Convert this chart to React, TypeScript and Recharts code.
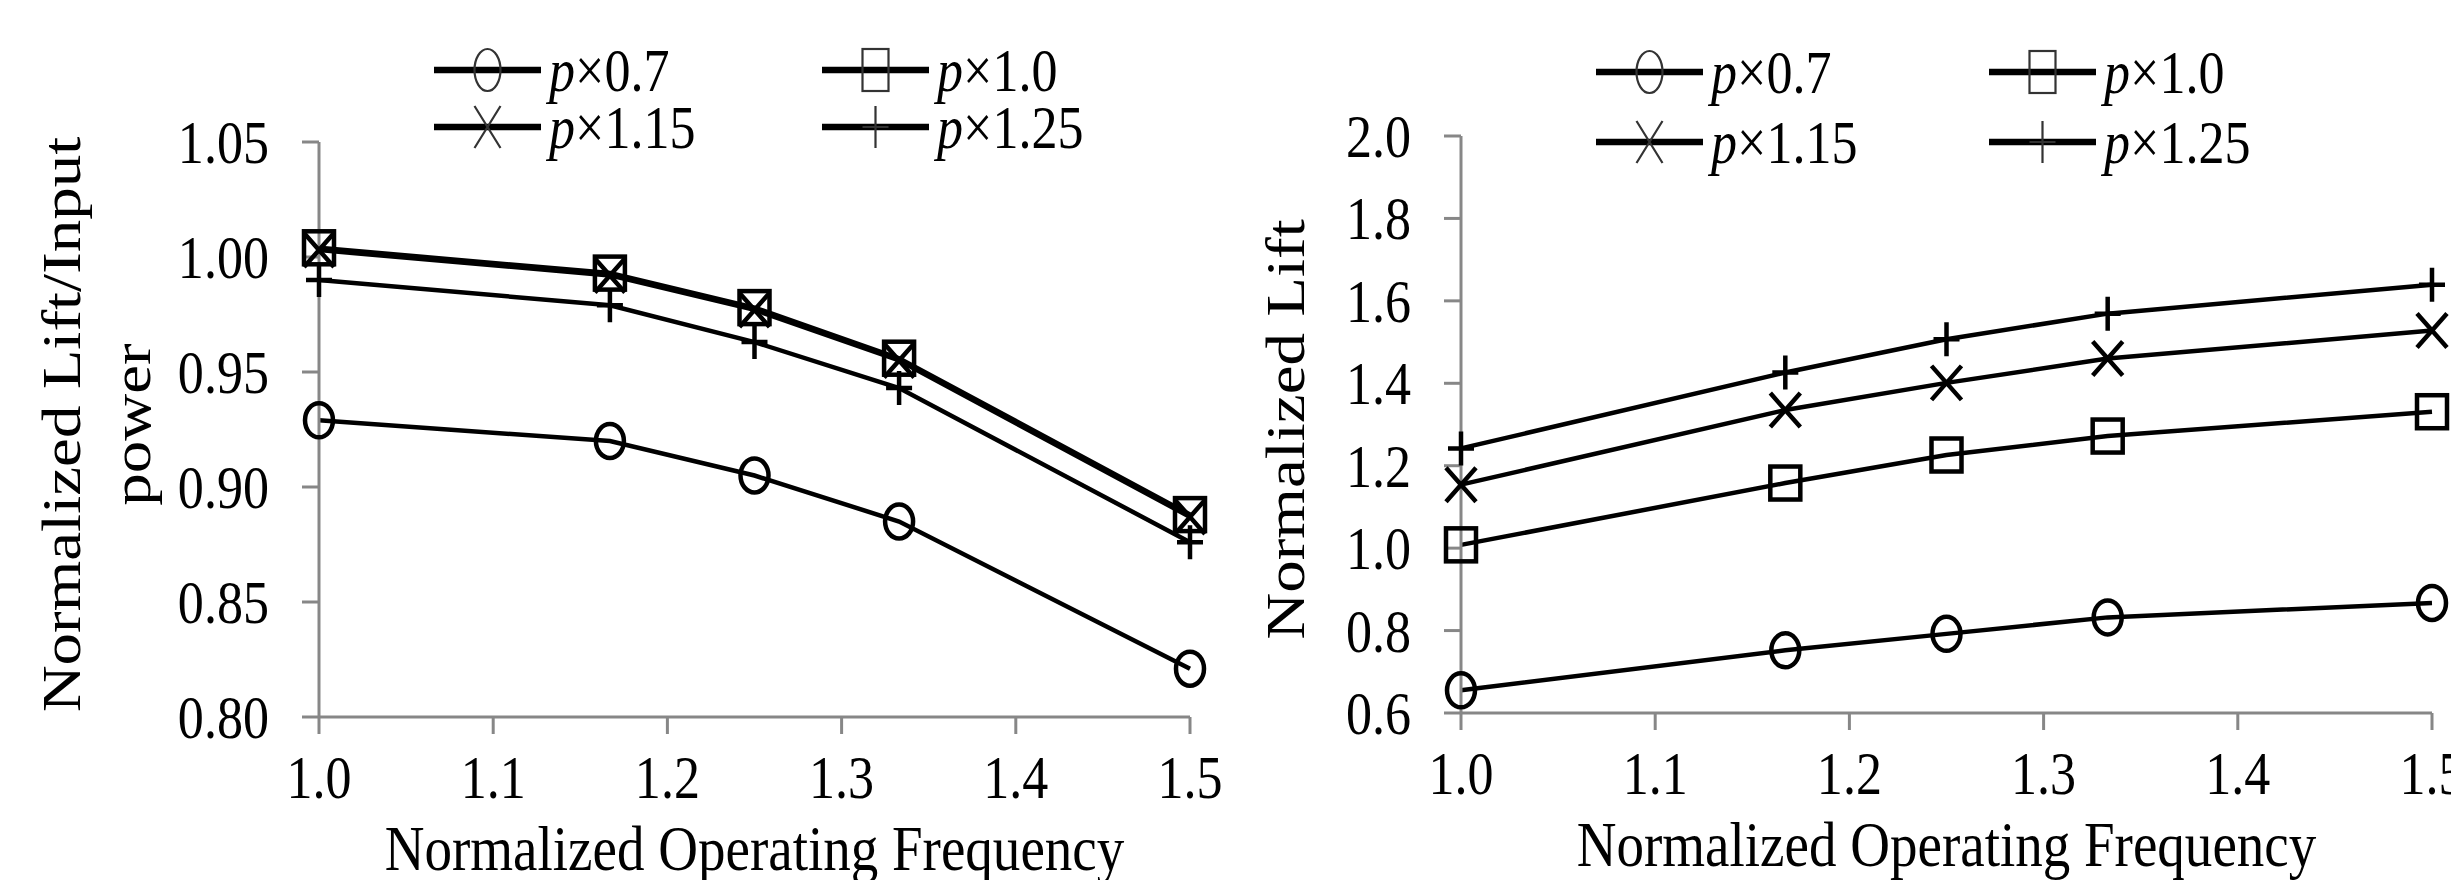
import React from "react";
import { LineChart, Line, XAxis, YAxis, Legend, Label } from "recharts";

const FONT = '"Liberation Serif", "Times New Roman", serif';
const AXIS_GREY = "#878787";
const SQUEEZE = 0.84; // the source figure is stretched vertically

// normalized operating frequency
const freq = [1.0, 1.167, 1.25, 1.333, 1.5];
const freqTicks = [1.0, 1.1, 1.2, 1.3, 1.4, 1.5];

// left panel: normalized lift / input power
const effP07 = [0.929, 0.92, 0.905, 0.885, 0.821];
const effP10 = [1.004, 0.993, 0.978, 0.956, 0.888];
const effP115 = [1.003, 0.992, 0.977, 0.955, 0.887];
const effP125 = [0.99, 0.979, 0.963, 0.943, 0.876];
const effTicks = [0.8, 0.85, 0.9, 0.95, 1.0, 1.05];

// right panel: normalized lift
const liftP07 = [0.655, 0.752, 0.792, 0.832, 0.867];
const liftP10 = [1.008, 1.158, 1.226, 1.272, 1.331];
const liftP115 = [1.154, 1.335, 1.401, 1.46, 1.528];
const liftP125 = [1.242, 1.426, 1.507, 1.569, 1.639];
const liftTicks = [0.6, 0.8, 1.0, 1.2, 1.4, 1.6, 1.8, 2.0];

const seriesKeys = ["p07", "p10", "p115", "p125"];
const seriesLabels = ["0.7", "1.0", "1.15", "1.25"];
const seriesMarks = ["circle", "square", "cross", "plus"];

const toRows = (cols: number[][]) =>
  freq.map((f, i) => {
    const row: any = { f };
    seriesKeys.forEach((k, j) => {
      row[k] = cols[j][i];
    });
    return row;
  });

const effData = toRows([effP07, effP10, effP115, effP125]);
const liftData = toRows([liftP07, liftP10, liftP115, liftP125]);

const dotSize: Record<string, number[]> = {
  circle: [28, 34],
  square: [30, 33],
  cross: [30, 34],
  plus: [26, 34],
};

function Mark({ kind, cx, cy, w, h, sw, color }: any) {
  if (kind === "circle")
    return <ellipse cx={cx} cy={cy} rx={w / 2} ry={h / 2} fill="none" stroke={color} strokeWidth={sw} />;
  if (kind === "square")
    return <rect x={cx - w / 2} y={cy - h / 2} width={w} height={h} fill="none" stroke={color} strokeWidth={sw} />;
  if (kind === "cross")
    return (
      <path
        d={`M${cx - w / 2},${cy - h / 2}L${cx + w / 2},${cy + h / 2}M${cx + w / 2},${cy - h / 2}L${cx - w / 2},${cy + h / 2}`}
        fill="none"
        stroke={color}
        strokeWidth={sw}
      />
    );
  return (
    <path
      d={`M${cx - w / 2},${cy}L${cx + w / 2},${cy}M${cx},${cy - h / 2}L${cx},${cy + h / 2}`}
      fill="none"
      stroke={color}
      strokeWidth={sw}
    />
  );
}

const renderDot = (kind: string) => (props: any) => {
  const [w, h] = dotSize[kind];
  return (
    <g key={`${kind}-${props.index}`}>
      <Mark kind={kind} cx={props.cx} cy={props.cy} w={w} h={h} sw={4.5} color="#000" />
    </g>
  );
};

const XTick = ({ x, y, payload }: any) => (
  <text
    transform={`translate(${x},${y + 64}) scale(${SQUEEZE},1)`}
    textAnchor="middle"
    fontFamily={FONT}
    fontSize={62}
    fill="#000"
  >
    {Number(payload.value).toFixed(1)}
  </text>
);

const yTick = (digits: number) => ({ x, y, payload }: any) => (
  <text
    transform={`translate(${x - 33},${y + 21}) scale(${SQUEEZE},1)`}
    textAnchor="end"
    fontFamily={FONT}
    fontSize={62}
    fill="#000"
  >
    {Number(payload.value).toFixed(digits)}
  </text>
);

const xTitle = ({ viewBox }: any) => (
  <text
    transform={`translate(${viewBox.x + viewBox.width / 2},${viewBox.y + 153}) scale(0.86,1)`}
    textAnchor="middle"
    fontFamily={FONT}
    fontSize={64}
    fill="#000"
  >
    Normalized Operating Frequency
  </text>
);

const yTitle = (lines: string[], baselines: number[], shift: number) => ({ viewBox }: any) => {
  const cy = viewBox.y + viewBox.height / 2 + shift;
  return (
    <g>
      {lines.map((t, i) => (
        <text
          key={t}
          transform={`translate(${baselines[i]},${cy}) rotate(-90) scale(1,${SQUEEZE})`}
          textAnchor="middle"
          fontFamily={FONT}
          fontSize={65}
          fill="#000"
        >
          {t}
        </text>
      ))}
    </g>
  );
};

const legendContent = (width: number, cols: number[], rows: number[]) => ({ payload }: any) => (
  <svg width={width} height={180} style={{ display: "block" }}>
    {(payload || []).map((e: any, i: number) => {
      const j = seriesKeys.indexOf(e.dataKey);
      const x0 = cols[i % 2];
      const y0 = rows[Math.floor(i / 2)];
      const x1 = x0 + 107;
      return (
        <g key={e.dataKey}>
          <line x1={x0} x2={x1} y1={y0} y2={y0} stroke="#000" strokeWidth={6.5} />
          <Mark kind={seriesMarks[j]} cx={(x0 + x1) / 2} cy={y0} w={26} h={42} sw={2.2} color="#333" />
          <text
            transform={`translate(${x1 + 8},${y0 + 21}) scale(${SQUEEZE},1)`}
            fontFamily={FONT}
            fontSize={62}
            fill="#000"
          >
            <tspan fontStyle="italic">p</tspan>
            <tspan>×{seriesLabels[j]}</tspan>
          </text>
        </g>
      );
    })}
  </svg>
);

const axisStyle = { stroke: AXIS_GREY, strokeWidth: 3 };

function Panel(p: any) {
  return (
    <LineChart
      width={p.width}
      height={880}
      data={p.data}
      margin={{ top: p.top, right: p.right, bottom: 880 - p.bottom - 60, left: 0 }}
    >
      <XAxis
        type="number"
        dataKey="f"
        domain={[1, 1.5]}
        ticks={freqTicks}
        interval={0}
        height={60}
        tickSize={17}
        tickMargin={0}
        axisLine={axisStyle}
        tickLine={axisStyle}
        tick={(props: any) => <XTick {...props} />}
      >
        <Label content={xTitle} />
      </XAxis>
      <YAxis
        type="number"
        domain={p.yDomain}
        ticks={p.yTicks}
        interval={0}
        width={p.yWidth}
        tickSize={17}
        tickMargin={0}
        axisLine={axisStyle}
        tickLine={axisStyle}
        tick={yTick(p.yDigits)}
      >
        <Label content={yTitle(p.yTitle, p.titleX, p.titleShift)} />
      </YAxis>
      <Legend
        layout="horizontal"
        verticalAlign="middle"
        align="center"
        width={p.width}
        height={180}
        wrapperStyle={{ left: 0, top: 0, width: p.width, height: 180 }}
        content={legendContent(p.width, p.legendCols, p.legendRows)}
      />
      {seriesKeys.map((k, j) => (
        <Line
          key={k}
          type="linear"
          dataKey={k}
          name={`p×${seriesLabels[j]}`}
          stroke="#000"
          strokeWidth={4.5}
          dot={renderDot(seriesMarks[j])}
          activeDot={false}
          isAnimationActive={false}
        />
      ))}
    </LineChart>
  );
}

export default function App() {
  return (
    <div style={{ position: "absolute", left: 0, top: 0, width: 2451, height: 880, background: "#fff", overflow: "hidden" }}>
      <div style={{ position: "absolute", left: 0, top: 0 }}>
        <Panel
          width={1230}
          data={effData}
          top={142}
          bottom={717}
          right={40}
          yWidth={319}
          yDomain={[0.8, 1.05]}
          yTicks={effTicks}
          yDigits={2}
          yTitle={["Normalized Lift/Input", "power"]}
          titleX={[80, 150]}
          titleShift={-5}
          legendCols={[434, 822]}
          legendRows={[70, 127]}
        />
      </div>
      <div style={{ position: "absolute", left: 1230, top: 0 }}>
        <Panel
          width={1221}
          data={liftData}
          top={136}
          bottom={713}
          right={19}
          yWidth={231}
          yDomain={[0.6, 2.0]}
          yTicks={liftTicks}
          yDigits={1}
          yTitle={["Normalized Lift"]}
          titleX={[74]}
          titleShift={5}
          legendCols={[366, 759]}
          legendRows={[72, 142]}
        />
      </div>
    </div>
  );
}
